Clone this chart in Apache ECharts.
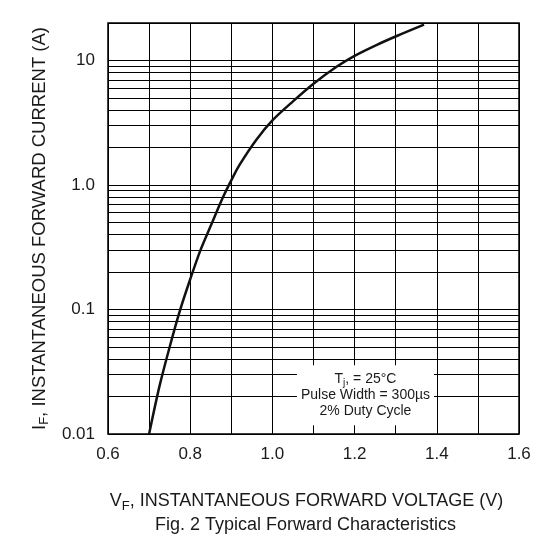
<!DOCTYPE html>
<html>
<head>
<meta charset="utf-8">
<script src="https://cdn.jsdelivr.net/npm/echarts@6/dist/echarts.min.js"></script>
<style>
  html, body { margin: 0; padding: 0; background: #fff; }
  #chart { width: 547px; height: 543px; }
</style>
</head>
<body>
<div id="chart"></div>
<script>
// forward voltage (V) vs forward current (A)
var voltage = [0.700, 0.725, 0.750, 0.775, 0.800, 0.825, 0.850, 0.880, 0.903, 0.920,
               0.961, 1.000, 1.050, 1.100, 1.156, 1.200, 1.253, 1.304, 1.369];
var current = [0.010, 0.024, 0.050, 0.098, 0.175, 0.30, 0.47, 0.80, 1.14, 1.45,
               2.31, 3.30, 4.69, 6.5, 8.9, 10.9, 13.3, 15.8, 19.4];

var xTicks = ['0.6', '0.8', '1.0', '1.2', '1.4', '1.6'];
var yTicks = {0.01: '0.01', 0.1: '0.1', 1: '1.0', 10: '10'};
// minor log grid lines 2..9 in each decade
var minorGrid = [0.02, 0.03, 0.04, 0.05, 0.06, 0.07, 0.08, 0.09,
                 0.2, 0.3, 0.4, 0.5, 0.6, 0.7, 0.8, 0.9,
                 2, 3, 4, 5, 6, 7, 8, 9];
var noteAt = [1.2265, 0.0205];

var FONT = '"Liberation Sans", Arial, sans-serif';
var dom = document.getElementById('chart');
var chart = echarts.init(dom);

var points = voltage.map(function (v, i) { return [v, current[i]]; });

var option = {
  animation: false,
  backgroundColor: '#fff',
  title: {
    text: 'Fig. 2 Typical Forward Characteristics',
    left: 155,
    top: 516,
    padding: 0,
    textStyle: { fontFamily: FONT, fontSize: 18, fontWeight: 'normal', color: '#1a1a1a' }
  },
  grid: {
    left: 108, right: 28, top: 23, bottom: 109,
    show: true, borderColor: '#000', borderWidth: 1.5, backgroundColor: 'transparent'
  },
  xAxis: {
    type: 'value',
    min: 0.6, max: 1.6, interval: 0.1,
    name: '{m|V}{s|F}{e|, INSTANTANEOUS FORWARD VOLTAGE (V)}',
    nameLocation: 'middle',
    nameGap: 57,
    nameTextStyle: {
      rich: {
        m: { fontFamily: FONT, fontSize: 18, color: '#1a1a1a', lineHeight: 21 },
        e: { fontFamily: FONT, fontSize: 18, color: '#1a1a1a', lineHeight: 21, padding: [0, 14, 0, 0] },
        s: { fontFamily: FONT, fontSize: 13, color: '#1a1a1a', lineHeight: 15, padding: [9, 0, 0, 0] }
      }
    },
    axisLine: { show: false },
    axisTick: { show: false },
    axisLabel: {
      margin: 12,
      fontFamily: FONT, fontSize: 17, color: '#1a1a1a',
      formatter: function (v) {
        var s = v.toFixed(1);
        return xTicks.indexOf(s) >= 0 ? s : '';
      }
    },
    splitLine: { show: true, lineStyle: { color: '#000', width: 1 } }
  },
  yAxis: {
    type: 'log',
    logBase: 10,
    min: 0.01, max: 20,
    name: '{m|I}{s|F}{m|, INSTANTANEOUS FORWARD CURRENT (A)}',
    nameLocation: 'middle',
    nameRotate: 90,
    nameGap: 54,
    nameTextStyle: {
      rich: {
        m: { fontFamily: FONT, fontSize: 18.5, color: '#1a1a1a', lineHeight: 21 },
        s: { fontFamily: FONT, fontSize: 13, color: '#1a1a1a', lineHeight: 15, padding: [9, 0, 0, 0] }
      }
    },
    axisLine: { show: false },
    axisTick: { show: false },
    axisLabel: {
      margin: 13,
      fontFamily: FONT, fontSize: 17, color: '#1a1a1a',
      formatter: function (v) {
        var key = Number(v.toPrecision(3));
        return yTicks[key] !== undefined ? yTicks[key] : '';
      }
    },
    splitLine: { show: true, lineStyle: { color: '#000', width: 1 } }
  },
  series: [
    {
      name: 'minor grid',
      type: 'line',
      data: [],
      silent: true,
      z: 1,
      markLine: {
        silent: true,
        symbol: ['none', 'none'],
        label: { show: false },
        lineStyle: { color: '#000', width: 1, type: 'solid' },
        animation: false,
        data: minorGrid.map(function (v) { return { yAxis: v }; })
      }
    },
    {
      name: 'IF',
      type: 'line',
      data: points,
      smooth: 0.3,
      showSymbol: false,
      symbol: 'none',
      z: 5,
      lineStyle: { color: '#111', width: 2.5 },
      markPoint: {
        z: 20,
        silent: true,
        symbol: 'rect',
        symbolSize: 0,
        data: [{
          coord: noteAt,
          label: {
            show: true,
            position: 'inside',
            align: 'center',
            backgroundColor: '#fff',
            padding: [6, 4, 6, 4],
            formatter: '{n|T}{s|j}{n|, = 25°C}\n{n|Pulse Width = 300µs}\n{n|2% Duty Cycle}',
            rich: {
              n: { fontFamily: FONT, fontSize: 14, color: '#1a1a1a', lineHeight: 16, align: 'center' },
              s: { fontFamily: FONT, fontSize: 10, color: '#1a1a1a', lineHeight: 12, padding: [8, 0, 0, 0] }
            }
          }
        }]
      }
    }
  ]
};
chart.setOption(option);
</script>
</body>
</html>
